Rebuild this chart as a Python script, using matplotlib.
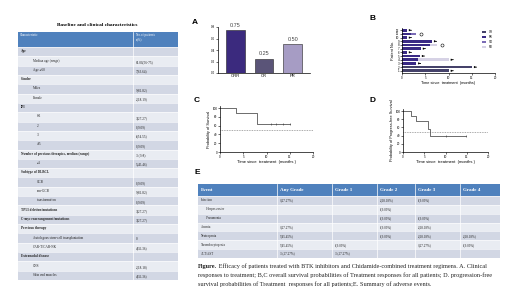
import matplotlib
matplotlib.use("Agg")
import matplotlib.pyplot as plt
from matplotlib.patches import Rectangle

# ---- datos ----
base_rows = [
    ("Age", "", True, 0),
    ("Median age (range)", "61.00(56-75)", False, 1),
    ("Age \u226560", "7(63.64)", False, 1),
    ("Gender", "", True, 0),
    ("Males", "9(81.82)", False, 1),
    ("Female", "2(18.19)", False, 1),
    ("IPI", "", True, 0),
    ("0-1", "3(27.27)", False, 2),
    ("2", "1(9.09)", False, 2),
    ("3", "6(54.55)", False, 2),
    ("4-5", "1(9.09)", False, 2),
    ("Number of previous therapies, median (range)", "3 (3-8)", True, 0),
    ("\u22654", "5(45.46)", False, 2),
    ("Subtype of DLBCL", "", True, 0),
    ("GCB", "1(9.09)", False, 2),
    ("non-GCB", "9(81.82)", False, 2),
    ("transformation", "1(9.09)", False, 2),
    ("TP53 deletion/mutations", "3(27.27)", True, 0),
    ("C-myc rearrangement/mutations", "3(27.27)", True, 0),
    ("Previous therapy", "", True, 0),
    ("Autologous stem-cell transplantation", "0", False, 1),
    ("CAR-T/CAR-NK", "4(36.36)", False, 1),
    ("Extranodal disease", "", True, 0),
    ("CNS", "2(18.18)", False, 1),
    ("Skin and muscles", "4(36.36)", False, 1),
]

resp_cats = ["ORR", "CR", "PR"]
resp_vals = [0.75, 0.25, 0.50]

patients = list(range(1, 13))
cr_dur = [10, 15, 0, 0, 0, 0, 0, 0, 0, 0, 0, 0]
pr_dur = [0, 0, 3.0, 3.4, 3.8, 1.0, 4.0, 6.0, 6.4, 1.0, 2.0, 1.0]
sd_dur = [0, 0, 0, 0, 0, 0, 0, 0, 0, 0, 1.0, 0]
pd_dur = [0, 0, 0, 6.6, 0, 0, 0, 1.5, 0, 0, 0, 0]
cont_arrow = [True, True, True, True, True, True, True, False, True, True, False, True]

os_t = [0, 3.4, 7.9, 15.1]
os_s = [100, 88, 65, 65]
os_cens = [11, 12, 13.5, 15]

pfs_t = [0, 1.8, 3.0, 5.9, 6.3, 14.9]
pfs_s = [100, 88, 76, 57, 38, 38]
pfs_cens = [10, 14.9]

ae_head = ["Event", "Any Grade", "Grade 1", "Grade 2", "Grade 3", "Grade 4"]
ae_rows = [
    ["Infection", "3(27.27%)", "", "2(18.18%)", "1(9.09%)", ""],
    ["      Herpes zoster", "", "", "1(9.09%)", "", ""],
    ["      Pneumonia", "", "", "1(9.09%)", "1(9.09%)", ""],
    ["Anemia", "3(27.27%)", "", "1(9.09%)", "2(18.18%)", ""],
    ["Neutropenia", "5(45.45%)", "", "1(9.09%)", "2(18.18%)", "2(18.18%)"],
    ["Thrombocytopenia", "5(45.45%)", "1(9.09%)", "", "3(27.27%)", "1(9.09%)"],
    ["ALT/AST", "3 (27.27%)", "3 (27.27%)", "", "", ""],
]

cap_bold = "Figure."
cap_lines = [
    " Efficacy of patients treated with BTK inhibitors and Chidamide-combined treatment regimens. A. Clinical",
    "responses to treatment; B,C overall survival probabilities of Treatment responses for all patients; D. progression-free",
    "survival probabilities of Treatment  responses for all patients;E. Summary of adverse events.",
]

W, H = 520, 292
HEAD = "#4f81bd"
SH1 = "#d2d7e4"
SH2 = "#e9ecf2"
SERIF = "Liberation Serif"
SANS = "Liberation Sans"


def box(x0, y0, x1, y1):
    return [x0 / W, 1 - y1 / H, (x1 - x0) / W, (y1 - y0) / H]


fig = plt.figure(figsize=(5.2, 2.92), dpi=100)
fig.patch.set_facecolor("white")

ax0 = fig.add_axes([0, 0, 1, 1])
ax0.set_xlim(0, W)
ax0.set_ylim(H, 0)
ax0.axis("off")

# tabla izquierda
ax0.text(97, 25, "Baseline and clinical characteristics", family=SERIF, weight="bold",
         fontsize=3.8, ha="center", va="center")
tx0, tx1, tmid = 18, 178, 133
ty = 32
ax0.add_patch(Rectangle((tx0, ty), tx1 - tx0, 15, color=HEAD, lw=0))
ax0.plot([tmid, tmid], [ty, ty + 15], color="white", lw=0.5)
ax0.text(tx0 + 2, ty + 3, "Characteristic", family=SERIF, color="white", fontsize=2.3, va="center")
ax0.text(tmid + 3, ty + 5, "No.of patients\nn(%)", family=SERIF, color="white", fontsize=2.3,
         va="center", linespacing=1.1)
rh = (280 - 47) / len(base_rows)
for i, (lab, val, bold, ind) in enumerate(base_rows):
    y = 47 + i * rh
    ax0.add_patch(Rectangle((tx0, y), tx1 - tx0, rh, color=SH1 if i % 2 == 0 else SH2, lw=0))
    ax0.plot([tx0, tx1], [y, y], color="white", lw=0.4)
    ax0.plot([tmid, tmid], [y, y + rh], color="white", lw=0.5)
    xx = tx0 + 3 + [0, 12, 16][ind]
    ax0.text(xx, y + rh * 0.45, lab, family=SERIF, fontsize=2.4, va="center",
             weight="bold" if bold else "normal", color="#222222")
    ax0.text(tmid + 3, y + rh * 0.6, val, family=SERIF, fontsize=2.4, va="center", color="#222222")

# letras de panel
for lt, (x, y) in zip("ABCDE", [(195, 22), (372, 18), (197, 101), (373, 101), (197, 172)]):
    ax0.text(x, y, lt, family=SANS, weight="bold", fontsize=6, ha="center", va="center")

# A
axA = fig.add_axes(box(218, 27, 310, 73))
colsA = ["#3b2a7e", "#5a5478", "#a69cc4"]
axA.bar(resp_cats, resp_vals, width=0.65, color=colsA, edgecolor="#222222", linewidth=0.4)
for i, v in enumerate(resp_vals):
    axA.text(i, v + 0.04, f"{v:.2f}", ha="center", va="bottom", fontsize=4, color="#444444", family=SANS)
axA.set_ylim(0, 0.8)
axA.set_yticks([0, 0.2, 0.4, 0.6, 0.8])
axA.set_xlim(-0.6, 2.6)

# B
axB = fig.add_axes(box(402, 28, 495, 73))
colsB = {"CR": "#45426a", "PR": "#3a2a85", "SD": "#7b6cb6", "PD": "#d6d2e5"}
left = [0.0] * len(patients)
for name, d in [("CR", cr_dur), ("PR", pr_dur), ("SD", sd_dur), ("PD", pd_dur)]:
    axB.barh(patients, d, left=left, height=0.7, color=colsB[name], label=name, lw=0)
    left = [a + b for a, b in zip(left, d)]
for p, end, ar in zip(patients, left, cont_arrow):
    if ar:
        axB.annotate("", xy=(end + 1.6, p), xytext=(end + 0.4, p),
                     arrowprops=dict(arrowstyle="-|>", lw=0.5, color="black", mutation_scale=2.5))
    else:
        axB.plot(end + 1.0, p, "o", mfc="white", mec="black", ms=2.2, mew=0.4)
axB.set_xlim(0, 20)
axB.set_ylim(0.4, 12.6)
axB.set_yticks(patients)
axB.set_xticks([0, 5, 10, 15, 20])
axB.set_xlabel("Time since  treatment  (months)", fontsize=2.8, labelpad=1, family=SANS)
axB.set_ylabel("Patient No.", fontsize=2.8, labelpad=1, family=SANS)
axB.legend(loc="upper right", fontsize=2.2, frameon=False, handlelength=1.4, handleheight=0.6,
           borderpad=0.2, labelspacing=0.3)

# C y D
for axpos, t, s, cens, lab in [((220, 106, 313, 152), os_t, os_s, os_cens, "Probability of Survival"),
                               ((403, 109, 488, 152), pfs_t, pfs_s, pfs_cens,
                                "Probability of Progress-free Survival")]:
    ax = fig.add_axes(box(*axpos))
    ax.step(t, s, where="post", color="#333333", lw=0.5)
    ax.plot(cens, [s[-1]] * len(cens), "|", color="#333333", ms=1.8, mew=0.4)
    ax.plot([0, 20], [50, 50], ls=(0, (1.5, 1.5)), color="#555555", lw=0.4)
    ax.set_xlim(0, 20)
    ax.set_ylim(0, 105)
    ax.set_xticks([0, 5, 10, 15, 20])
    ax.set_yticks([0, 20, 40, 60, 80, 100])
    ax.set_xlabel("Time since  treatment  (months )", fontsize=3, labelpad=1, family=SANS)
    ax.set_ylabel(lab, fontsize=2.8, labelpad=1, family=SANS)

for ax in fig.axes[1:]:
    for sp in ["top", "right"]:
        ax.spines[sp].set_visible(False)
    for sp in ["left", "bottom"]:
        ax.spines[sp].set_linewidth(0.5)
    ax.tick_params(labelsize=2.2, width=0.4, length=1.2, pad=0.8)
    for tl in ax.get_xticklabels() + ax.get_yticklabels():
        tl.set_family(SANS)
axA.tick_params(axis="x", labelsize=3, length=0)

# E
cx = [198, 277, 332, 377, 415, 460, 500]
ey = 184
ax0.add_patch(Rectangle((cx[0], ey), cx[-1] - cx[0], 12, color=HEAD, lw=0))
for j, h in enumerate(ae_head):
    ax0.text(cx[j] + 3, ey + 6, h, family=SERIF, weight="bold", color="white", fontsize=3.6, va="center")
erh = (258 - 196) / len(ae_rows)
for i, row in enumerate(ae_rows):
    y = 196 + i * erh
    ax0.add_patch(Rectangle((cx[0], y), cx[-1] - cx[0], erh, color=SH1 if i % 2 == 0 else SH2, lw=0))
    ax0.plot([cx[0], cx[-1]], [y, y], color="white", lw=0.4)
    for j, c in enumerate(row):
        ax0.text(cx[j] + 3, y + erh / 2, c, family=SERIF, fontsize=2.3, va="center", color="#222222")
for x in cx[1:-1]:
    ax0.plot([x, x], [ey, 258], color="white", lw=0.5)

# pie de figura
CAP_FS = 4.5
t0 = ax0.text(198, 266.5, cap_bold, family=SERIF, weight="bold", fontsize=CAP_FS, va="center", color="#222222")
fig.canvas.draw()
bb = t0.get_window_extent()
x1 = 198 + bb.width * W / fig.bbox.width
ax0.text(x1, 266.5, cap_lines[0], family=SERIF, fontsize=CAP_FS, va="center", color="#222222")
ax0.text(198, 275.5, cap_lines[1], family=SERIF, fontsize=CAP_FS, va="center", color="#222222")
ax0.text(198, 284.5, cap_lines[2], family=SERIF, fontsize=CAP_FS, va="center", color="#222222")

fig.savefig("out.png", dpi=100)
